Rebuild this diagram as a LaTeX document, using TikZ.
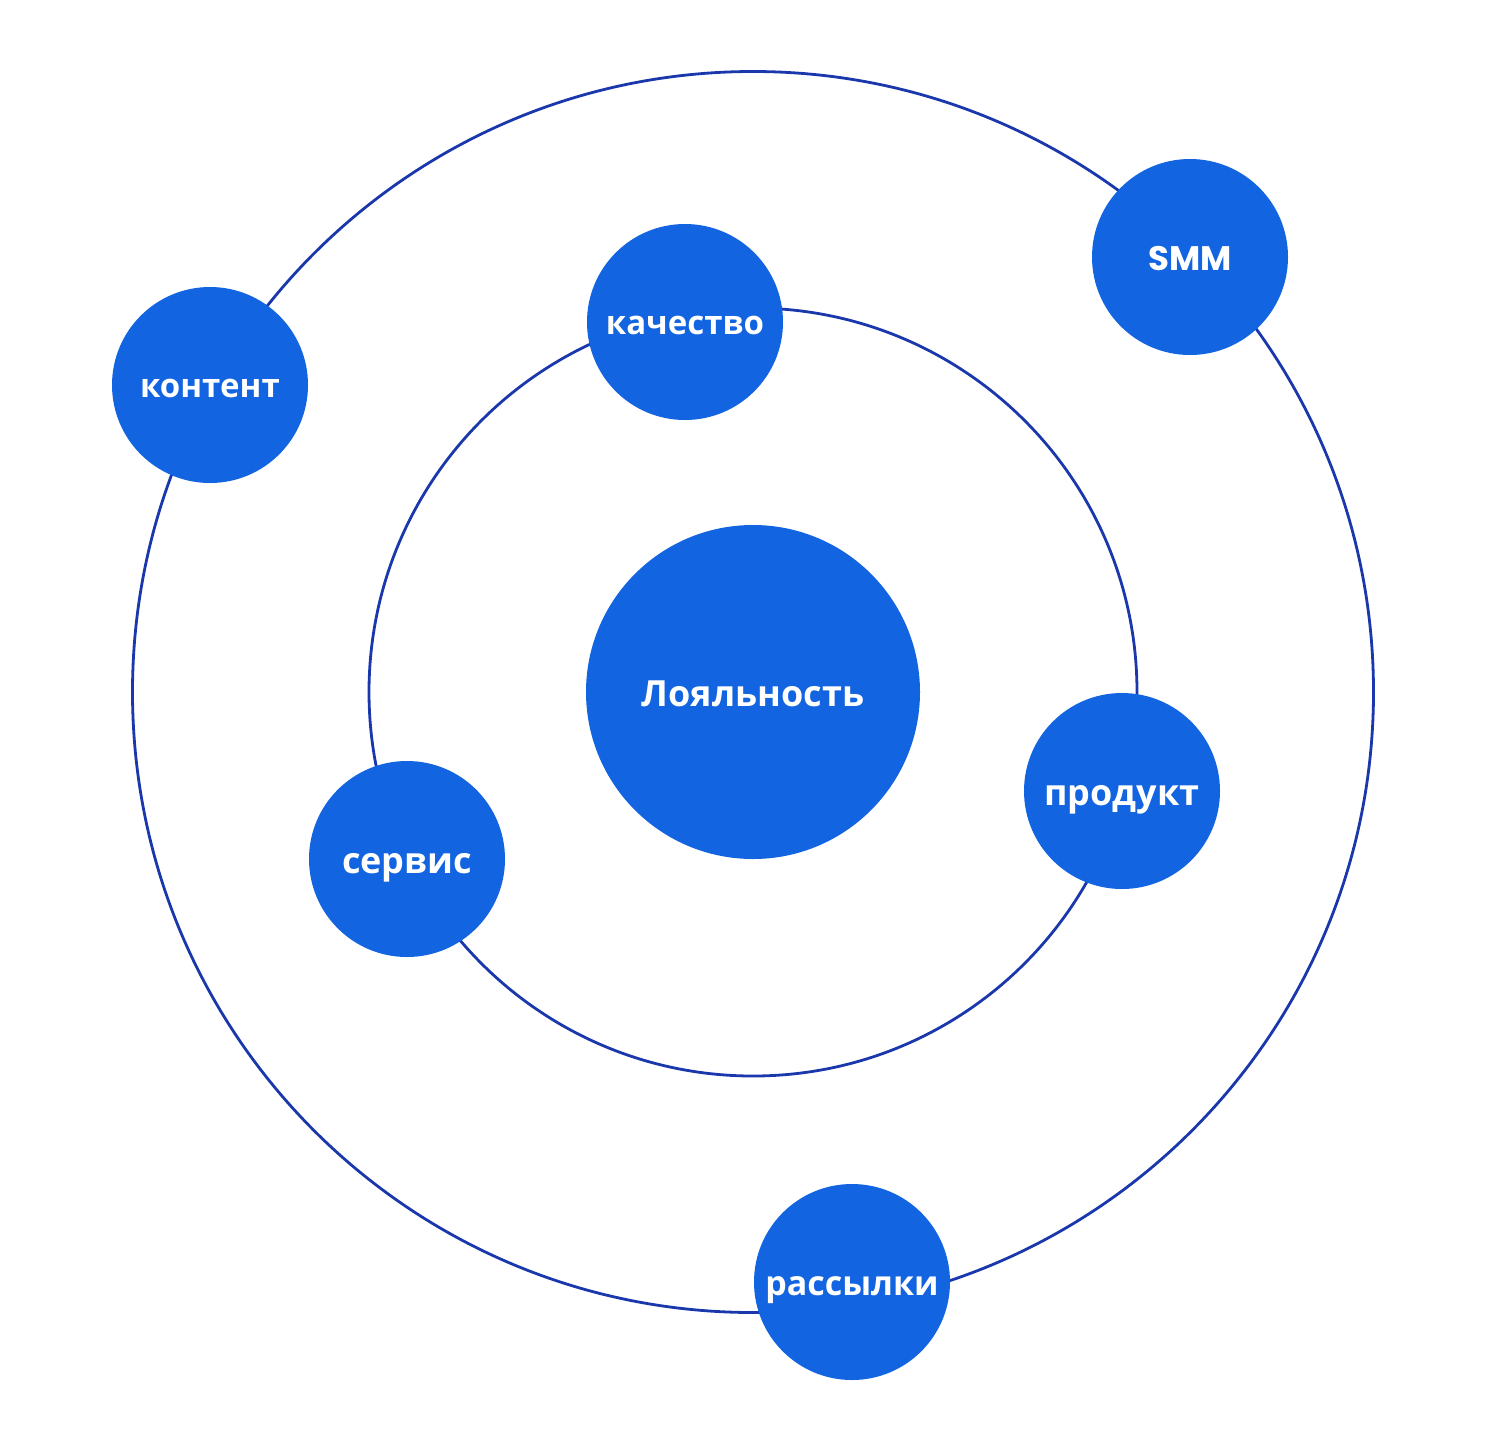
\documentclass[tikz,border=0pt]{standalone}
\usepackage{fontspec}
\setmainfont{Open Sans}
\newfontfamily\popfont{Poppins}
\definecolor{dotblue}{HTML}{1264E0}
\definecolor{ringblue}{HTML}{1A38AC}
\newcommand\fsz[1]{\fontsize{#1}{#1}\selectfont\bfseries}
\begin{document}
\begin{tikzpicture}[x=1pt,y=-1pt,
  ring/.style={draw=ringblue,line width=2.8pt},
  dot/.style={circle,fill=dotblue,minimum size=196pt,inner sep=0pt,text=white,
    text height=28pt,text depth=0pt,font=\fsz{36}},
  small/.style={font=\fsz{33},text height=25.7pt},
  mid/.style={font=\fsz{34},text height=26.5pt},
  bigdot/.style={dot,minimum size=334pt}]
\useasboundingbox (0,0) rectangle (1488,1452);
\coordinate (c) at (753,692);
\draw[ring] (c) circle[radius=620.5];
\draw[ring] (c) circle[radius=384];
\node[bigdot] (loy) at (c) {Лояльность};
\node[dot,small] (kont) at (210,385) {контент};
\node[dot,small] (kach) at (685,322) {качество};
\node[dot,mid] (smm) at (1190,257) {\popfont\bfseries SMM};
\node[dot] (prod) at (1122,791) {продукт};
\node[dot] (serv) at (407,859) {сервис};
\node[dot,mid] (rass) at (852,1282) {рассылки};
\end{tikzpicture}
\end{document}
